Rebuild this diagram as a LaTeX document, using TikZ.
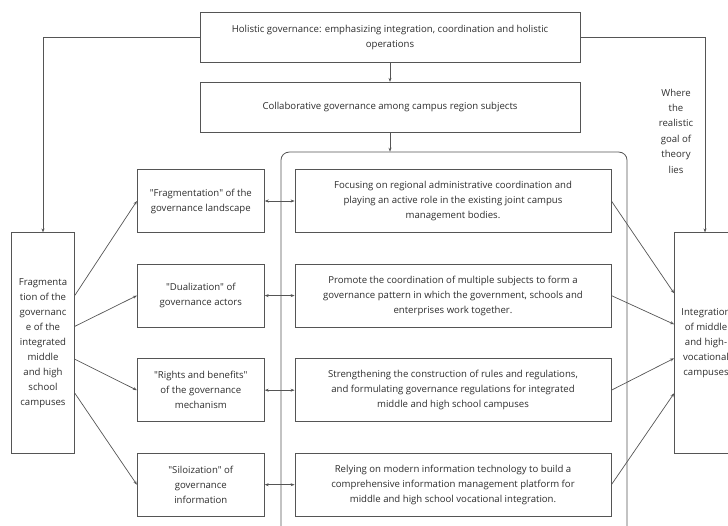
\documentclass[tikz,border=0pt]{standalone}
\usepackage{fontspec}
\setmainfont{Open Sans}[Ligatures=TeXOff]
\usetikzlibrary{arrows.meta,calc}
\definecolor{ln}{HTML}{555555}
\definecolor{tx}{HTML}{2E2E2E}
\begin{document}
\begin{tikzpicture}[x=1pt,y=-1pt,
  box/.style={draw=ln, line width=0.8pt, fill=white, align=center, text=tx,
    font=\fontsize{9.6}{15}\selectfont, inner sep=0pt},
  plain/.style={align=center, text=tx, font=\fontsize{9.6}{15.4}\selectfont, inner sep=0pt},
  arr/.style={draw=ln, line width=0.7pt, -{Stealth[length=4pt,width=3pt]}},
  darr/.style={draw=ln, line width=0.7pt, {Stealth[length=4pt,width=3pt]}-{Stealth[length=4pt,width=3pt]}},
  midbox/.style={box, minimum width=127pt, minimum height=63pt},
  innerbox/.style={box, minimum width=316pt, minimum height=63pt},
  sidebox/.style={box, minimum width=63pt, minimum height=221pt}]
\useasboundingbox (0,0) rectangle (728,526);

% group frame
\node[draw=ln, line width=0.8pt, rounded corners=8pt, minimum width=346pt,
  minimum height=450pt, anchor=north, inner sep=0pt] (grp) at (454,151.7) {};

% top boxes
\node[box, minimum width=380pt, minimum height=50pt] (top) at (390,37.3)
  {Holistic governance: emphasizing integration, coordination and holistic\\operations};
\node[box, minimum width=380pt, minimum height=50pt] (col) at (390,107.3)
  {Collaborative governance among campus region subjects};

% side boxes
\node[sidebox] (left) at (43,343.3)
  {Fragmenta\\tion of the\\governanc\\e of the\\integrated\\middle\\and high\\school\\campuses};
\node[sidebox] (right) at (706,343.3)
  {Integration\\of middle\\and high-\\vocational\\campuses};

% middle column
\node[midbox] (m1) at (200.8,201) {"Fragmentation" of the\\governance landscape};
\node[midbox] (m2) at (200.8,295.6) {"Dualization" of\\governance actors};
\node[midbox] (m3) at (200.8,390.2) {"Rights and benefits"\\of the governance\\mechanism};
\node[midbox] (m4) at (200.8,484.7) {"Siloization" of\\governance\\information};

% inner column
\node[innerbox] (i1) at (453,201)
  {Focusing on regional administrative coordination and\\playing an active role in the existing joint campus\\management bodies.};
\node[innerbox] (i2) at (453,295.6)
  {Promote the coordination of multiple subjects to form a\\governance pattern in which the government, schools and\\enterprises work together.};
\node[innerbox] (i3) at (453,390.2)
  {Strengthening the construction of rules and regulations,\\and formulating governance regulations for integrated\\middle and high school campuses};
\node[innerbox] (i4) at (453,484.7)
  {Relying on modern information technology to build a\\comprehensive information management platform for\\middle and high school vocational integration.};

% label
\node[plain] (goal) at (676,131) {Where\\the\\realistic\\goal of\\theory\\lies};

% connectors
\draw[arr] (top.west) -| (left.north);
\draw[arr] (top.east) -| ([xshift=-1]right.north);
\draw[arr] (top.south) -- (col.north);
\draw[arr] (col.south) -- (col.south |- grp.north);

\draw[arr] ([yshift=48]left.east) -- (m1.west);
\draw[arr] ([yshift=17]left.east) -- (m2.west);
\draw[arr] ([yshift=-16]left.east) -- (m3.west);
\draw[arr] ([yshift=-50]left.east) -- (m4.west);

\draw[darr] (m1.east) -- (i1.west);
\draw[darr] (m2.east) -- (i2.west);
\draw[darr] (m3.east) -- (i3.west);
\draw[darr] (m4.east) -- (i4.west);

\draw[arr] (i1.east) -- ([yshift=50]right.west);
\draw[arr] (i2.east) -- ([yshift=19]right.west);
\draw[arr] (i3.east) -- ([yshift=-15]right.west);
\draw[arr] (i4.east) -- ([yshift=-50]right.west);
\end{tikzpicture}
\end{document}
